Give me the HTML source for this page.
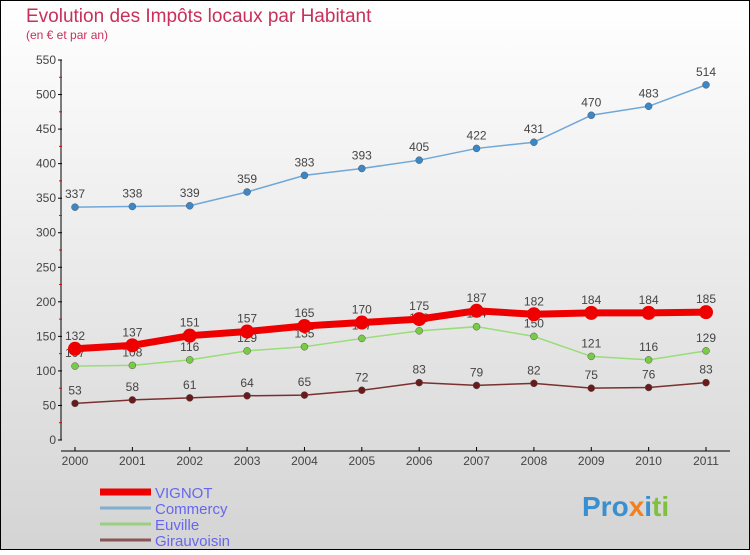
<!DOCTYPE html>
<html><head><meta charset="utf-8"><style>
body{margin:0;width:750px;height:550px;overflow:hidden;font-family:"Liberation Sans",sans-serif}
</style></head><body>
<svg width="750" height="550" xmlns="http://www.w3.org/2000/svg">
<defs><linearGradient id="bg" x1="0" y1="0" x2="0" y2="1"><stop offset="0" stop-color="#ffffff"/><stop offset="1" stop-color="#d4d4d4"/></linearGradient></defs>
<rect x="0.5" y="0.5" width="749" height="549" fill="url(#bg)" stroke="#000"/>
<text x="26" y="22" font-size="19" fill="#c8305a">Evolution des Impôts locaux par Habitant</text>
<text x="26" y="39" font-size="12" fill="#c8305a">(en € et par an)</text>
<g id="axes"></g>
<g id="series"></g>
<g id="legend"></g>
<text x="582" y="516" font-size="28" font-weight="bold" fill="#3a8fd0">Pro<tspan fill="#f08020">x</tspan><tspan fill="#3a8fd0">i</tspan><tspan fill="#80c040">ti</tspan></text>
</svg>
<script>
const years=[2000,2001,2002,2003,2004,2005,2006,2007,2008,2009,2010,2011];
const yTicks=[0,50,100,150,200,250,300,350,400,450,500,550];
const vignot=[132,137,151,157,165,170,175,187,182,184,184,185];
const commercy=[337,338,339,359,383,393,405,422,431,470,483,514];
const euville=[107,108,116,129,135,147,158,164,150,121,116,129];
const girauvoisin=[53,58,61,64,65,72,83,79,82,75,76,83];
const NS="http://www.w3.org/2000/svg";
function X(i){return 75+i*(706-75)/(years.length-1);}
function Y(v){return 440-v*380/550;}
function mk(t,a,p){const e=document.createElementNS(NS,t);for(const k in a)e.setAttribute(k,a[k]);p.appendChild(e);return e;}
const ax=document.getElementById('axes');
let l=mk('line',{x1:61,y1:Y(550),x2:61,y2:Y(0),stroke:'#000','stroke-width':1},ax);


l=mk('line',{x1:61,y1:451,x2:730,y2:451,stroke:'#000','stroke-width':1},ax);


yTicks.forEach(v=>{
  mk('line',{x1:58,y1:Y(v),x2:62,y2:Y(v),stroke:'#000'},ax);
  if(v<550)mk('line',{x1:59,y1:Y(v+25),x2:62,y2:Y(v+25),stroke:'#e00'},ax);
  const t=mk('text',{x:56,y:Y(v)+4,'font-size':12,'text-anchor':'end',fill:'#444'},ax);
  t.textContent=v;
  
  
});
years.forEach((y,i)=>{
  mk('line',{x1:X(i),y1:447,x2:X(i),y2:451,stroke:'#000'},ax);
  const t=mk('text',{x:X(i),y:465,'font-size':12,'text-anchor':'middle',fill:'#444'},ax);
  t.textContent=y;
  
  
});
const sg=document.getElementById('series');
function series(vals,color,dot,w,r,name){
  const g=mk('g',{},sg);
  
  
  mk('polyline',{points:vals.map((v,i)=>X(i)+','+Y(v)).join(' '),fill:'none',stroke:color,'stroke-width':w},g);
  vals.forEach((v,i)=>{
    const c=mk('circle',{cx:X(i),cy:Y(v),r:r,fill:dot,stroke:dot==color?'none':'#555','stroke-width':0.5},g);
    
    
    const t=mk('text',{x:X(i),y:Y(v)-9,'font-size':12,'text-anchor':'middle',fill:'#444'},g);
    t.textContent=v;
    
    
  });
}
series(girauvoisin,'#7a3030','#6a1a1a',1.5,3.5,'girauvoisin');
series(euville,'#99dd77','#77cc44',1.5,3.5,'euville');
series(commercy,'#6fa8d8','#3a88c8',1.5,3.5,'commercy');
series(vignot,'#ee0000','#ee0000',7,7,'vignot');
const lg=document.getElementById('legend');
[['VIGNOT','#ee0000',7],['Commercy','#80aed0',3],['Euville','#99d080',3],['Girauvoisin','#8a5555',3]].forEach((e,i)=>{
  const y=492+i*16;
  mk('line',{x1:100,y1:y,x2:151,y2:y,stroke:e[1],'stroke-width':e[2]},lg);
  const t=mk('text',{x:155,y:y+6,'font-size':15,fill:'#6666ee'},lg);
  t.textContent=e[0];
  
  
});
</script>
</body></html>
